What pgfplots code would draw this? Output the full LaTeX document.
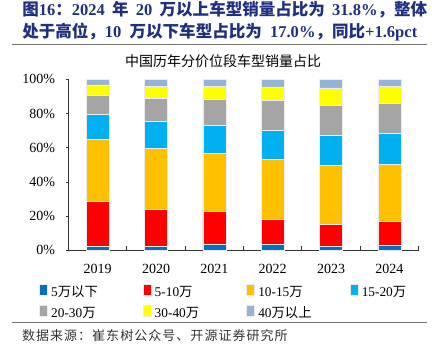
\documentclass[border=0pt]{standalone}
\usepackage{fontspec}
\usepackage{pgfplots}
\usepackage{pgfplotstable}
\pgfplotsset{compat=1.18}
\setmainfont{Liberation Serif}
\newfontfamily\cjk{Noto Sans CJK SC}
\newfontfamily\cjksp[LetterSpace=8]{Noto Sans CJK SC}
\definecolor{tcol}{RGB}{32,48,128}
\definecolor{cA}{HTML}{0070C0}
\definecolor{cB}{HTML}{FF0000}
\definecolor{cC}{HTML}{FFC000}
\definecolor{cD}{HTML}{00B0F0}
\definecolor{cE}{HTML}{A5A5A5}
\definecolor{cF}{HTML}{FFFF00}
\definecolor{cG}{HTML}{95B3D7}
\pgfplotsset{legend image code/.code={\fill[#1] (0pt,-1.5pt) rectangle (3.75pt,2.25pt);}}
\pgfplotstableread{
x a b c d e f g
0 2.1 26.6 36.0 15.0 10.7 6.4 3.2
1 2.5 21.6 35.7 15.6 13.4 7.0 4.2
2 3.8 19.1 33.8 16.4 15.5 7.2 4.2
3 3.7 14.6 34.8 17.0 17.5 8.0 4.4
4 2.5 12.9 34.2 17.8 17.3 10.3 5.0
5 3.0 14.0 33.2 18.0 17.6 10.1 4.1
}\datatable
\begin{document}
\begin{tikzpicture}
\useasboundingbox (0,0) rectangle (325.5pt,267.75pt);
% title
\node[anchor=west, text=tcol, font=\bfseries\fontsize{12.4}{14}\selectfont, inner sep=0pt] at (16.5pt,260.6pt)
  {\makebox[303.75pt][s]{{\cjk 图}16{\cjk ：}2024 {\cjk 年} 20 {\cjk 万以上车型销量占比为} 31.8\%{\cjk ，整体}}};
\node[anchor=west, text=tcol, font=\bfseries\fontsize{12.4}{14}\selectfont, inner sep=0pt] at (16.5pt,243.4pt)
  {\makebox[296.25pt][s]{{\cjk 处于高位，}10 {\cjk 万以下车型占比为} 17.0\%{\cjk ，同比}+1.6pct}};
\draw[line width=0.8pt, color=black!55] (8.8pt,234.5pt) -- (320pt,234.5pt);
% chart title
\node[font=\fontsize{10.5}{12}\selectfont\cjk, inner sep=0pt] at (167.25pt,222.2pt) {中国历年分价位段车型销量占比};
\begin{axis}[
  at={(51.4pt,80.0pt)}, anchor=south west,
  scale only axis, width=262.5pt, height=128.25pt,
  ybar stacked, bar width=17.25pt,
  xmin=-0.5, xmax=5.5, ymin=0, ymax=100,
  axis x line*=bottom, axis y line*=left,
  axis line style={black!80, line width=0.7pt},
  xtick={0,1,2,3,4,5},
  xticklabels={2019,2020,2021,2022,2023,2024},
  minor xtick={0.5,1.5,2.5,3.5,4.5,5.5},
  major x tick style={draw=none},
  minor x tick style={draw=black!80, line width=0.6pt, yshift=3pt},
  ytick={0,20,40,60,80,100},
  yticklabels={0\%,20\%,40\%,60\%,80\%,100\%},
  ytick style={black!80, line width=0.6pt},
  tick align=outside, major tick length=2pt, minor tick length=3pt,
  yticklabel style={font=\fontsize{10.5}{12}\selectfont, xshift=-4.5pt},
  xticklabel style={font=\fontsize{10.5}{12}\selectfont, yshift=-5pt},
  every axis plot/.append style={draw=white!85!gray, line width=0.4pt},
  legend style={draw=none, fill=none, at={(-0.0842,-0.197)}, anchor=north west,
    legend columns=4, inner sep=0pt, row sep=4.5pt,
    nodes={inner sep=0pt, anchor=west},
    /tikz/every odd column/.append style={column sep=2.5pt},
    font=\fontsize{10}{12}\selectfont},
  legend cell align=left,
]
\addplot[fill=cA] table[x=x,y=a]{\datatable};
\addplot[fill=cB] table[x=x,y=b]{\datatable};
\addplot[fill=cC] table[x=x,y=c]{\datatable};
\addplot[fill=cD] table[x=x,y=d]{\datatable};
\addplot[fill=cE] table[x=x,y=e]{\datatable};
\addplot[fill=cF] table[x=x,y=f]{\datatable};
\addplot[fill=cG] table[x=x,y=g]{\datatable};
\addlegendentry{\makebox[68.75pt][l]{5{\cjk 万以下}}}
\addlegendentry{\makebox[68.75pt][l]{5-10{\cjk 万}}}
\addlegendentry{\makebox[68.75pt][l]{10-15{\cjk 万}}}
\addlegendentry{\makebox[68.75pt][l]{15-20{\cjk 万}}}
\addlegendentry{\makebox[68.75pt][l]{20-30{\cjk 万}}}
\addlegendentry{\makebox[68.75pt][l]{30-40{\cjk 万}}}
\addlegendentry{\makebox[68.75pt][l]{40{\cjk 万以上}}}
\end{axis}
% bottom
\draw[line width=0.8pt, color=black!55] (8.8pt,26.0pt) -- (320pt,26.0pt);
\node[anchor=west, inner sep=0pt, text=black!80, font=\fontsize{9.75}{12}\selectfont\cjksp] at (16.3pt,16.0pt) {数据来源：崔东树公众号、开源证券研究所};
\end{tikzpicture}
\end{document}
